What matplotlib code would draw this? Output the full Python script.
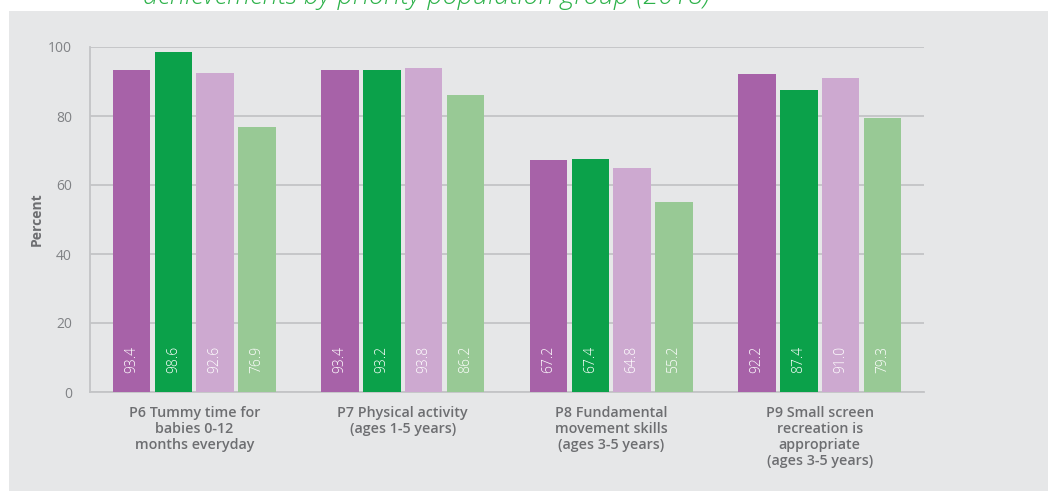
import matplotlib
matplotlib.use("Agg")
import matplotlib.pyplot as plt
from matplotlib.patches import Rectangle
import numpy as np

categories = [
    "P6 Tummy time for\nbabies 0-12\nmonths everyday",
    "P7 Physical activity\n(ages 1-5 years)",
    "P8 Fundamental\nmovement skills\n(ages 3-5 years)",
    "P9 Small screen\nrecreation is\nappropriate\n(ages 3-5 years)",
]
series_a = [93.4, 93.4, 67.2, 92.2]
series_b = [98.6, 93.2, 67.4, 87.4]
series_c = [92.6, 93.8, 64.8, 91.0]
series_d = [76.9, 86.2, 55.2, 79.3]
yticks = [0, 20, 40, 60, 80, 100]

colors = ["#a762a8", "#0ba14a", "#cda9d0", "#98c995"]
panel_bg = "#e6e7e8"
grid_col = "#c3c4c6"
text_col = "#6d6e71"

plt.rcParams["font.family"] = ["Open Sans", "DejaVu Sans"]

fig = plt.figure(figsize=(10.48, 4.91), dpi=100)
fig.patch.set_facecolor("white")

# grey panel behind the chart
fig.add_artist(Rectangle((9 / 1048, 0), 1 - 9 / 1048, 1 - 11 / 491,
                         transform=fig.transFigure, facecolor=panel_bg,
                         edgecolor="none", zorder=0))

# heading running off the top edge
fig.text(143 / 1048, 1 - 3.5 / 491,
         "achievements by priority population group (2018)",
         color="#2db24a", fontsize=19.5, style="italic", fontweight="light",
         ha="left", va="baseline")

ax = fig.add_axes([90 / 1048, (491 - 392) / 491, (924 - 90) / 1048, (392 - 47) / 491])
ax.set_facecolor("none")

x = np.arange(len(categories))
width = 0.18
offsets = [-0.3, -0.1, 0.1, 0.3]
all_series = [series_a, series_b, series_c, series_d]

for vals, off, col in zip(all_series, offsets, colors):
    bars = ax.bar(x + off, vals, width=width, color=col, zorder=3)
    for rect, v in zip(bars, vals):
        ax.text(rect.get_x() + rect.get_width() / 2, 5.5, f"{v:.1f}",
                rotation=90, ha="center", va="bottom", color="white",
                fontsize=10, fontweight="light", zorder=4)

ax.set_xlim(-0.5, 3.5)
ax.set_ylim(0, 100)
ax.set_yticks(yticks)
ax.set_yticklabels([str(t) for t in yticks], color="#808285", fontsize=10)
ax.yaxis.grid(True, color=grid_col, linewidth=1.3, zorder=1)
ax.set_axisbelow(True)
ax.tick_params(axis="y", length=0, pad=13)
ax.tick_params(axis="x", length=0, pad=10)

ax.set_xticks(x)
ax.set_xticklabels(categories, color=text_col, fontsize=10.3,
                   fontweight="semibold", linespacing=1.2)

for side in ["top", "right"]:
    ax.spines[side].set_visible(False)
ax.spines["left"].set_color(grid_col)
ax.spines["bottom"].set_color(grid_col)
ax.spines["left"].set_linewidth(1.3)
ax.spines["bottom"].set_linewidth(1.3)

ax.set_ylabel("Percent", color=text_col, fontsize=10, fontweight="bold")
ax.yaxis.set_label_coords(-0.055, 0.5)

fig.savefig("out.png", dpi=100, facecolor=fig.get_facecolor())
